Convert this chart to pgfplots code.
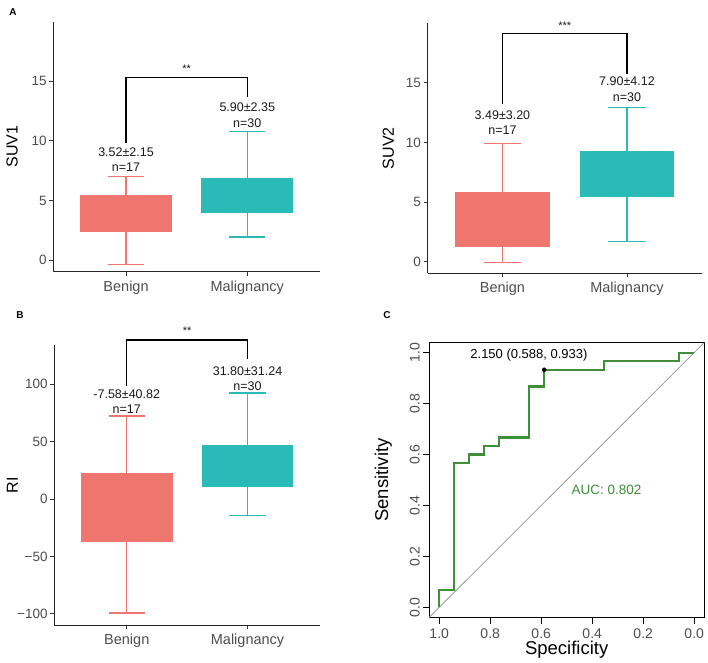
\documentclass[border=0pt]{standalone}
\usepackage{fontspec}
\setmainfont{Liberation Sans}
\usepackage{pgfplots}
\pgfplotsset{compat=1.18}
\usepgfplotslibrary{statistics}
\definecolor{benred}{HTML}{EF766F}
\definecolor{malteal}{HTML}{2ABBB8}
\definecolor{rocgreen}{HTML}{3E8E3A}
\definecolor{ticktxt}{HTML}{4D4D4D}
\definecolor{anntxt}{HTML}{1A1A1A}
\newcommand{\fs}[1]{\fontsize{#1}{#1}\selectfont}
\newcommand{\rl}[1]{\rotatebox{90}{#1}}

\pgfplotsset{
  ggclassic/.style={
    scale only axis,
    xmin=0.4, xmax=2.6,
    xtick={1,2}, xticklabels={Benign,Malignancy},
    axis x line*=bottom, axis y line*=left,
    axis line style={line width=1pt, black!85},
    tick style={line width=0.9pt, black!80},
    tick align=outside, major tick length=4pt,
    minor tick num=0,
    xticklabel style={font=\fs{14.5}, text=ticktxt, inner sep=0pt, anchor=base, yshift=-15.5pt},
    yticklabel style={font=\fs{13.5}, text=ticktxt, inner sep=0pt, anchor=east, xshift=-2.5pt},
    ylabel style={font=\fs{16}, anchor=center},
    clip=false,
    boxplot/draw direction=y,
    boxplot/box extend=0.75,
    boxplot/whisker extend=0.3,
  },
  bxred/.style={draw=benred, fill=benred, line width=1.1pt,
    boxplot/every whisker/.style={draw=benred, line width=1.1pt}},
  bxteal/.style={draw=malteal, fill=malteal, line width=1.1pt,
    boxplot/every whisker/.style={draw=malteal, line width=1.1pt}},
}
\tikzset{
  ann/.style={font=\fs{12.5}, text=anntxt},
  star/.style={font=\fs{11}, text=anntxt, anchor=base},
  brk/.style={line width=1.1pt, black},
}

\begin{document}
\begin{tikzpicture}
\path[use as bounding box] (0,0) rectangle (708pt,662pt);

% panel letters
\node[font=\bfseries\fs{10}] at (13pt,650pt) {A};
\node[font=\bfseries\fs{10}] at (20pt,347pt) {B};
\node[font=\bfseries\fs{10}] at (387pt,347pt) {C};

% SUV1
\begin{axis}[ggclassic,
  at={(53.3pt,390.3pt)}, anchor=south west,
  width=266.7pt, height=250pt,
  ymin=-0.98, ymax=20,
  ytick={0,5,10,15}, yticklabels={0,5,10,15},
  ylabel={SUV1},
  ylabel style={at={(axis description cs:-0.154,0.5)}},
]
\addplot[bxred, boxplot prepared={draw position=1, lower whisker=-0.36, lower quartile=2.37,
  median=3.4, upper quartile=5.39, upper whisker=6.98}] coordinates {};
\addplot[bxteal, boxplot prepared={draw position=2, lower whisker=1.93, lower quartile=3.97,
  median=5.5, upper quartile=6.85, upper whisker=10.75}] coordinates {};
\draw[brk] (axis cs:1,9.8) -- (axis cs:1,15.3) -- (axis cs:2,15.3) -- (axis cs:2,13.7);
\node[star] at (axis cs:1.5,15.7) {**};
\node[ann] at (axis cs:1,9.08) {3.52±2.15};
\node[ann] at (axis cs:1,7.82) {n=17};
\node[ann] at (axis cs:2,12.8) {5.90±2.35};
\node[ann] at (axis cs:2,11.5) {n=30};
\end{axis}

% SUV2
\begin{axis}[ggclassic,
  at={(427.7pt,388.7pt)}, anchor=south west,
  width=274pt, height=250pt,
  ymin=-0.97, ymax=19.98,
  ytick={0,5,10,15}, yticklabels={0,5,10,15},
  ylabel={SUV2},
  ylabel style={at={(axis description cs:-0.144,0.5)}},
]
\addplot[bxred, boxplot prepared={draw position=1, lower whisker=-0.08, lower quartile=1.26,
  median=3.0, upper quartile=5.78, upper whisker=9.92}] coordinates {};
\addplot[bxteal, boxplot prepared={draw position=2, lower whisker=1.71, lower quartile=5.45,
  median=7.5, upper quartile=9.22, upper whisker=12.9}] coordinates {};
\draw[brk] (axis cs:1,13.2) -- (axis cs:1,19.14) -- (axis cs:2,19.14) -- (axis cs:2,15.7);
\node[star] at (axis cs:1.5,19.48) {***};
\node[ann] at (axis cs:1,12.24) {3.49±3.20};
\node[ann] at (axis cs:1,10.98) {n=17};
\node[ann] at (axis cs:2,15.15) {7.90±4.12};
\node[ann] at (axis cs:2,13.8) {n=30};
\end{axis}

% RI
\begin{axis}[ggclassic,
  at={(54.3pt,37pt)}, anchor=south west,
  width=265.7pt, height=280pt,
  ymin=-109.8, ymax=134.1,
  ytick={-100,-50,0,50,100},
  yticklabels={−100,−50,0,50,100},
  ylabel={RI},
  ylabel style={at={(axis description cs:-0.158,0.5)}},
]
\addplot[bxred, boxplot prepared={draw position=1, lower whisker=-99.3, lower quartile=-37.2,
  median=-10, upper quartile=21.8, upper whisker=72.3}] coordinates {};
\addplot[bxteal, boxplot prepared={draw position=2, lower whisker=-14.8, lower quartile=11.3,
  median=30, upper quartile=46.4, upper whisker=92.3}] coordinates {};
\draw[brk] (axis cs:1,98.7) -- (axis cs:1,138.5) -- (axis cs:2,138.5) -- (axis cs:2,121.7);
\node[star] at (axis cs:1.5,143) {**};
\node[ann] at (axis cs:1,91.2) {-7.58±40.82};
\node[ann] at (axis cs:1,78.1) {n=17};
\node[ann] at (axis cs:2,111.5) {31.80±31.24};
\node[ann] at (axis cs:2,97.8) {n=30};
\end{axis}

% ROC
\begin{axis}[
  at={(429pt,44.5pt)}, anchor=south west,
  scale only axis, width=275.4pt, height=275pt,
  xmin=-0.04, xmax=1.04, ymin=-0.04, ymax=1.04,
  x dir=reverse,
  xtick={0,0.2,0.4,0.6,0.8,1},
  xticklabels={0.0,0.2,0.4,0.6,0.8,1.0},
  ytick={0,0.2,0.4,0.6,0.8,1},
  yticklabels={\rl{0.0},\rl{0.2},\rl{0.4},\rl{0.6},\rl{0.8},\rl{1.0}},
  tick pos=left, tick align=outside, major tick length=6pt,
  minor tick num=0,
  axis line style={line width=1pt, black},
  tick style={line width=0.9pt, black},
  xticklabel style={font=\fs{14}, text=ticktxt, inner sep=0pt, anchor=center, yshift=-9.8pt},
  yticklabel style={font=\fs{14}, text=ticktxt, inner sep=0pt, anchor=east, xshift=-3pt},
  xlabel={Specificity}, ylabel={Sensitivity},
  xlabel style={font=\fs{18.5}, at={(axis description cs:0.5,-0.118)}, anchor=center},
  ylabel style={font=\fs{18.5}, at={(axis description cs:-0.166,0.5)}, anchor=center},
]
\addplot[line width=0.8pt, color=black!40] coordinates {(1.04,-0.04) (-0.04,1.04)};
\addplot[line width=2.2pt, color=rocgreen] coordinates {
  (1,0) (1,0.067) (0.941,0.067) (0.941,0.567) (0.882,0.567) (0.882,0.6)
  (0.824,0.6) (0.824,0.633) (0.765,0.633) (0.765,0.667) (0.647,0.667)
  (0.647,0.867) (0.588,0.867) (0.588,0.933) (0.353,0.933) (0.353,0.967)
  (0.059,0.967) (0.059,1) (0,1)
};
\addplot[only marks, mark=*, mark size=2pt, black] coordinates {(0.588,0.933)};
\node[font=\fs{13}, text=black] at (axis cs:0.648,0.991) {2.150 (0.588, 0.933)};
\node[font=\fs{13.5}, text=rocgreen] at (axis cs:0.3435,0.463) {AUC: 0.802};
\end{axis}
\end{tikzpicture}
\end{document}
